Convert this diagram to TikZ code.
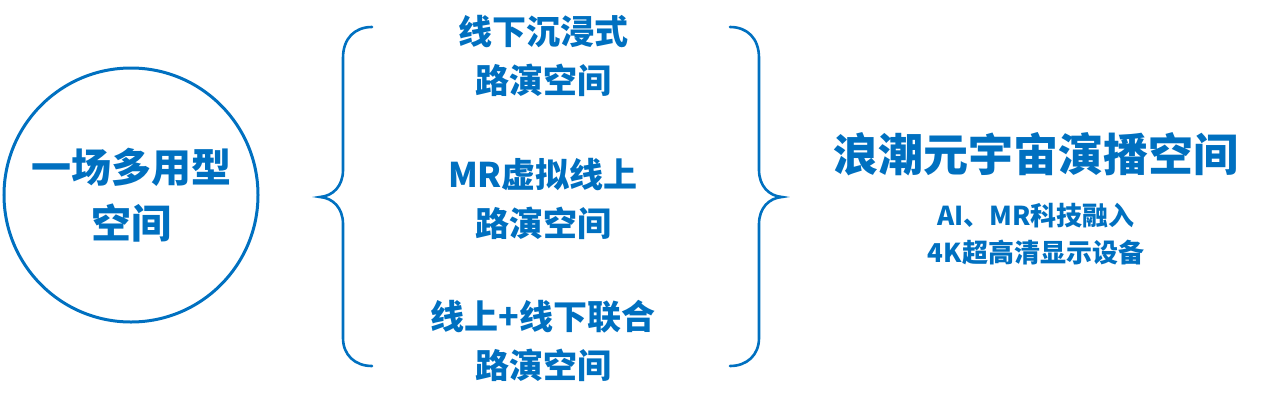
\documentclass[tikz,border=0pt]{standalone}
\usepackage{fontspec}
\setmainfont{Noto Sans CJK SC}
\definecolor{spaceblue}{HTML}{0070C0}
\begin{document}
\begin{tikzpicture}[x=1pt,y=-1pt,
		brace/.style={draw=spaceblue,line width=2.6pt,line cap=round},
		txt/.style={text=spaceblue,align=center,inner sep=0pt,font=\bfseries}]
		\useasboundingbox (0,0) rectangle (1268,405);
		
		\node[draw=spaceblue,circle,line width=3pt,minimum size=254pt,inner sep=0pt] (hall) at (131,195) {};
		\node[txt,font=\bfseries\fontsize{40}{56}\selectfont] (hallT) at (hall) {一场多用型\\空间};
		
		% left brace
		\draw[brace] (372,27) .. controls (355,27) and (343,38) .. (343,58) -- (343,170)
			.. controls (343,186) and (333,196) .. (320,197) .. controls (333,198) and (343,208) .. (343,224)
			-- (343,338) .. controls (343,355) and (355,366) .. (372,366);
		% right brace
		\draw[brace] (730,27) .. controls (747,27) and (759,38) .. (759,58) -- (759,170)
			.. controls (759,186) and (769,196) .. (782,197) .. controls (769,198) and (759,208) .. (759,224)
			-- (759,338) .. controls (759,355) and (747,366) .. (730,366);
		
		\node[txt,font=\bfseries\fontsize{34}{49}\selectfont] (offline) at (543,56) {线下沉浸式\\路演空间};
		\node[txt,font=\bfseries\fontsize{34}{49}\selectfont] (mr) at (543,199) {MR虚拟线上\\路演空间};
		\node[txt,font=\bfseries\fontsize{34}{49}\selectfont] (mixed) at (543,341) {线上+线下联合\\路演空间};
		
		\node[txt,font=\bfseries\fontsize{45}{54}\selectfont] (title) at (1036,154) {浪潮元宇宙演播空间};
		\node[txt,font=\bfseries\fontsize{26}{37}\selectfont] (sub) at (1036,234) {AI、MR科技融入\\4K超高清显示设备};
		\end{tikzpicture}
\end{document}
